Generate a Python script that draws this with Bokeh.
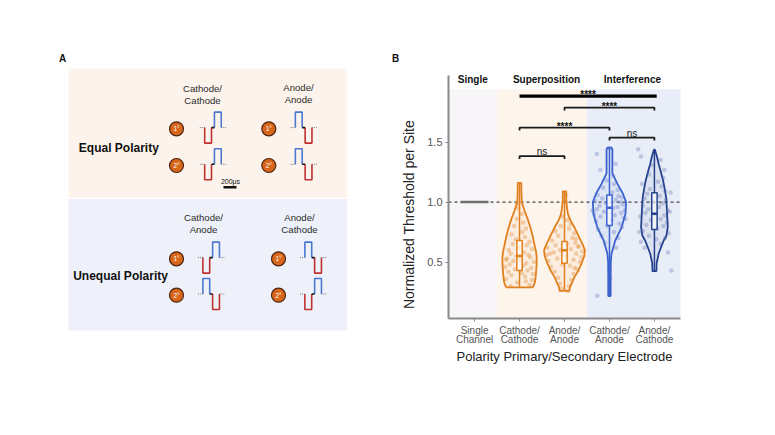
import numpy as np
from bokeh.plotting import figure
from bokeh.models import Range1d, FixedTicker, NumeralTickFormatter, LinearAxis
from bokeh.embed import file_html
from bokeh.resources import INLINE
from bokeh.core.properties import value

FONT = value("Liberation Sans")

# ---------------- Panel B data ----------------
cat_pos = [1, 2, 3, 4, 5]
cat_labels = ["Single\nChannel", "Cathode/\nCathode", "Anode/\nAnode", "Cathode/\nAnode", "Anode/\nCathode"]
y_ticks = [0.5, 1.0, 1.5]
group_colors = ["#6f6f6f", "#E0801E", "#E0801E", "#3B63D0", "#24418E"]
dot_colors = ["#6f6f6f", "#E0801E", "#E0801E", "#5b72c4", "#5b6fae"]

single_channel_value = 1.0

# violin outlines: threshold levels and half widths (category units)
vio_cc_level = [1.16, 1.10, 1.00, 0.93, 0.86, 0.79, 0.72, 0.65, 0.58, 0.54, 0.48, 0.43, 0.38, 0.33, 0.30, 0.29]
vio_cc_half = [0.040, 0.040, 0.050, 0.11, 0.18, 0.24, 0.29, 0.33, 0.37, 0.38, 0.38, 0.37, 0.36, 0.34, 0.31, 0.29]
vio_aa_level = [1.09, 1.02, 0.95, 0.90, 0.85, 0.79, 0.72, 0.65, 0.60, 0.55, 0.49, 0.43, 0.375, 0.33, 0.29, 0.26]
vio_aa_half = [0.038, 0.038, 0.056, 0.078, 0.13, 0.22, 0.31, 0.40, 0.455, 0.44, 0.38, 0.31, 0.22, 0.17, 0.12, 0.11]
vio_ca_level = [1.453, 1.44, 1.35, 1.24, 1.15, 1.07, 1.00, 0.90, 0.79, 0.68, 0.57, 0.50, 0.40, 0.30, 0.217]
vio_ca_half = [0.045, 0.065, 0.065, 0.065, 0.18, 0.30, 0.37, 0.355, 0.27, 0.13, 0.045, 0.03, 0.027, 0.027, 0.027]
vio_ac_level = [1.437, 1.38, 1.32, 1.25, 1.18, 1.11, 1.04, 0.97, 0.90, 0.79, 0.72, 0.68, 0.62, 0.57, 0.49, 0.425]
vio_ac_half = [0.011, 0.056, 0.093, 0.144, 0.193, 0.229, 0.26, 0.273, 0.282, 0.296, 0.267, 0.207, 0.144, 0.093, 0.049, 0.044]

# box stats: lower whisker, Q1, median, Q3, upper whisker
box_cc = [0.29, 0.43, 0.55, 0.68, 1.16]
box_aa = [0.26, 0.49, 0.598, 0.672, 1.09]
box_ca = [0.217, 0.806, 0.953, 1.06, 1.453]
box_ac = [0.425, 0.772, 0.903, 1.078, 1.437]

# individual observations (threshold) and horizontal jitter (category units)
dots_cc = [0.30, 0.31, 0.33, 0.35, 0.36, 0.38, 0.39, 0.40, 0.41, 0.42, 0.43, 0.44, 0.45, 0.46, 0.47,
           0.48, 0.49, 0.50, 0.51, 0.52, 0.53, 0.54, 0.55, 0.56, 0.57, 0.58, 0.60, 0.61, 0.62, 0.64,
           0.65, 0.67, 0.69, 0.71, 0.73, 0.75, 0.78, 0.80, 0.83, 0.86, 0.90, 0.95, 0.99, 0.34, 0.52]
jit_cc = [-0.20, 0.22, -0.05, 0.28, -0.30, 0.12, -0.18, 0.30, 0.05, -0.25, 0.18, -0.10, 0.26, -0.32, 0.08,
          -0.22, 0.15, 0.32, -0.14, 0.02, -0.28, 0.24, -0.06, 0.20, -0.20, 0.10, -0.24, 0.28, -0.02, 0.16,
          -0.15, 0.22, -0.08, 0.12, -0.18, 0.06, 0.14, -0.12, 0.08, -0.06, 0.05, -0.03, -0.06, 0.14, -0.30]
dots_aa = [0.26, 0.28, 0.30, 0.32, 0.35, 0.37, 0.40, 0.42, 0.44, 0.46, 0.47, 0.48, 0.50, 0.51, 0.52,
           0.53, 0.54, 0.55, 0.56, 0.57, 0.58, 0.59, 0.60, 0.61, 0.62, 0.63, 0.64, 0.65, 0.66, 0.68,
           0.70, 0.72, 0.74, 0.76, 0.78, 0.80, 0.82, 0.85, 0.88, 1.00, 1.06, 0.45, 0.57, 0.63, 0.69]
jit_aa = [0.08, -0.06, 0.10, -0.10, 0.15, -0.14, 0.20, -0.22, 0.28, -0.30, 0.12, -0.05, 0.34, -0.36, 0.20,
          -0.16, 0.38, 0.04, -0.40, 0.26, -0.24, 0.40, -0.10, 0.14, -0.38, 0.32, -0.20, 0.06, 0.24, -0.28,
          0.18, -0.14, 0.22, -0.20, 0.10, -0.08, 0.14, 0.06, -0.05, 0.03, 0.04, 0.22, -0.32, 0.30, 0.26]
dots_ca = [0.22, 0.37, 0.62, 0.66, 0.70, 0.72, 0.75, 0.77, 0.79, 0.80, 0.82, 0.84, 0.85, 0.87, 0.88,
           0.89, 0.90, 0.91, 0.92, 0.93, 0.94, 0.95, 0.96, 0.97, 0.98, 0.99, 1.00, 1.01, 1.02, 1.03,
           1.05, 1.06, 1.08, 1.10, 1.12, 1.15, 1.18, 1.22, 1.27, 1.32, 1.40, 1.45, 0.93, 0.86, 1.04]
jit_ca = [-0.27, 0.02, 0.15, -0.10, 0.20, -0.18, 0.10, -0.25, 0.28, -0.05, 0.22, -0.30, 0.05, 0.32, -0.20,
          0.12, -0.34, 0.26, -0.12, 0.34, -0.28, 0.08, 0.18, -0.22, 0.30, -0.08, 0.24, -0.32, 0.14, -0.16,
          0.20, -0.26, 0.06, 0.18, -0.14, 0.10, -0.06, 0.08, -0.20, 0.14, -0.28, 0.00, -0.38, 0.36, 0.28]
dots_ac = [0.43, 0.58, 0.62, 0.65, 0.67, 0.70, 0.72, 0.74, 0.76, 0.78, 0.80, 0.81, 0.83, 0.85, 0.86,
           0.88, 0.89, 0.90, 0.91, 0.93, 0.94, 0.96, 0.97, 0.99, 1.00, 1.02, 1.03, 1.05, 1.07, 1.09,
           1.11, 1.13, 1.15, 1.17, 1.20, 1.23, 1.27, 1.31, 1.35, 1.38, 1.44, 0.75, 0.92, 1.08, 0.69]
jit_ac = [0.38, 0.30, -0.22, 0.14, -0.30, 0.24, -0.12, 0.32, -0.26, 0.06, 0.20, -0.18, 0.28, -0.08, 0.14,
          -0.32, 0.22, 0.02, -0.20, 0.30, -0.14, 0.10, -0.26, 0.18, -0.04, 0.26, -0.22, 0.12, -0.16, 0.24,
          -0.10, 0.16, -0.28, 0.08, 0.20, -0.12, 0.22, -0.06, 0.14, -0.30, -0.36, -0.34, 0.34, 0.36, 0.04]

# strategy regions
region_names = ["Single", "Superposition", "Interference"]
region_start = [0.42, 1.5, 3.5]
region_end = [1.5, 3.5, 5.58]
region_colors = ["#f7f5f8", "#fdf4ec", "#e9edf7"]
region_top = 1.94
region_label_x = [0.96, 2.6, 4.51]
region_label_y = 2.02

# significance brackets
brk_x1 = [2.0, 3.0, 2.0, 4.0, 2.0]
brk_x2 = [5.05, 5.0, 4.0, 5.0, 3.0]
brk_y = [1.883, 1.787, 1.62, 1.537, 1.383]
brk_label = ["****", "****", "****", "ns", "ns"]

# ---------------- Panel A data ----------------
panel_header_top = ["Cathode/", "Cathode", "Anode/", "Anode"]
panel_header_bottom = ["Cathode/", "Anode", "Anode/", "Cathode"]
row_titles = ["Equal Polarity", "Unequal Polarity"]
electrode_labels = ["1°", "2°"]
# phase order of each electrode: C = cathodic first, A = anodic first
wave_order = [["C", "C"], ["A", "A"], ["C", "A"], ["A", "C"]]
wave_lead_us, wave_phase_us, wave_gap_us, wave_trail_us = 75, 105, 45, 75
scale_bar_us = 200

# ---------------- layout geometry (page pixels) ----------------
W, H = 775, 435
B_left, B_right, B_top, B_bottom = 448, 680, 75, 318
x_lo, x_hi = 0.42, 5.58
y_lo, y_hi = 0.03, 2.055
frame_left, frame_bottom = 50, 375
px_cat = (B_right - B_left) / (x_hi - x_lo)
px_thr = (B_bottom - B_top) / (y_hi - y_lo)
cat_start = x_lo - (B_left - frame_left) / px_cat
cat_end = x_hi + (W - B_right) / px_cat
thr_end = y_hi + B_top / px_thr
thr_start = y_lo - (frame_bottom - B_bottom) / px_thr

p = figure(width=W, height=H, x_range=Range1d(frame_left, W), y_range=Range1d(frame_bottom, 0),
           output_backend="svg", toolbar_location=None, title=None,
           x_axis_location=None, y_axis_location=None,
           min_border_left=frame_left, min_border_bottom=H - frame_bottom, min_border_top=0, min_border_right=0)
p.grid.visible = False
p.outline_line_color = None
p.extra_x_ranges = {"cat": Range1d(cat_start, cat_end)}
p.extra_y_ranges = {"thr": Range1d(thr_start, thr_end)}
B = dict(x_range_name="cat", y_range_name="thr")


def txt(x, y, t, size, bold=False, color="#111111", align="center", baseline="middle", angle=0.0, **kw):
    p.text(x=x, y=y, text=t, text_font=FONT, text_font_size=size,
           text_font_style="bold" if bold else "normal", text_color=color,
           text_align=align, text_baseline=baseline, angle=angle, **kw)


# ================= Panel A =================
p.quad(left=[68, 68], right=[346.7, 346.7], top=[68, 198.5], bottom=[196.7, 330],
       fill_color=["#fcf3ec", "#eef1f9"], line_color=None)

txt([62, 395], [58, 58], ["A", "B"], "10px", bold=True)

txt([202, 202, 298, 298], [88, 100, 87, 99], panel_header_top, "9.6px", color="#2b2b2b")
txt([203, 203, 299, 299], [217, 228.5, 217, 228.5], panel_header_bottom, "9.6px", color="#2b2b2b")
txt([78.3, 72.7], [147.3, 275], row_titles, "12px", bold=True, align="left")

circle_x = [176, 268.3, 176, 278]
circle_y = [[128.3, 165], [128.3, 165], [258.3, 294.7], [258.3, 294.7]]
wave_x0 = [199.3, 290, 197.5, 299.5]
px_per_us = 13.0 / 200.0
amp = 15.5
RED, BLUE = "#c0302e", "#4a78cf"

cx, cy, ct = [], [], []
for i in range(4):
    for j in range(2):
        cx.append(circle_x[i]); cy.append(circle_y[i][j]); ct.append(electrode_labels[j])
p.scatter(x=cx, y=cy, size=14, fill_color="#d8661a", line_color="#4a2410", line_width=1.2)
txt(cx, cy, ct, "6.5px", color="white")

dot_xs, dot_ys, blk_xs, blk_ys = [], [], [], []
for i in range(4):
    for j in range(2):
        x0 = wave_x0[i]
        base = circle_y[i][j] - 1.2
        xa = x0 + wave_lead_us * px_per_us
        xb = xa + wave_phase_us * px_per_us
        xc = xb + wave_gap_us * px_per_us
        xd = xc + wave_phase_us * px_per_us
        xe = xd + wave_trail_us * px_per_us
        first = wave_order[i][j]
        s = 1 if first == "C" else -1
        c1 = RED if first == "C" else BLUE
        c2 = BLUE if first == "C" else RED
        p.line([xa, xa, xb, xb], [base, base + s * amp, base + s * amp, base], line_color=c1, line_width=1.6)
        p.line([xc, xc, xd, xd], [base, base - s * amp, base - s * amp, base], line_color=c2, line_width=1.6)
        dot_xs += [[x0, xa], [xd, xe]]
        dot_ys += [[base, base], [base, base]]
        blk_xs.append([xb, xc]); blk_ys.append([base, base])
p.multi_line(dot_xs, dot_ys, line_color="#777777", line_width=1, line_dash="1 1")
p.multi_line(blk_xs, blk_ys, line_color="#111111", line_width=1.6)

txt([230], [181], ["200μs"], "7px")
p.line([223, 223 + scale_bar_us * px_per_us], [186.7, 186.7], line_color="#111111", line_width=2.5)

# ================= Panel B =================
p.quad(left=region_start, right=region_end, bottom=[y_lo] * 3, top=[region_top] * 3,
       fill_color=region_colors, line_color=None, **B)
txt(region_label_x, [region_label_y] * 3, region_names, "10px", bold=True, **B)

p.segment(x0=[x_lo], x1=[x_hi], y0=[1.0], y1=[1.0], line_color="#444444", line_width=1.2,
          line_dash="3 3", **B)

p.segment(x0=[cat_pos[0] - 0.31], x1=[cat_pos[0] + 0.31], y0=[single_channel_value], y1=[single_channel_value],
          line_color=group_colors[0], line_width=2.5, **B)

violins = [(vio_cc_level, vio_cc_half), (vio_aa_level, vio_aa_half),
           (vio_ca_level, vio_ca_half), (vio_ac_level, vio_ac_half)]
boxes = [box_cc, box_aa, box_ca, box_ac]
dots = [(dots_cc, jit_cc), (dots_aa, jit_aa), (dots_ca, jit_ca), (dots_ac, jit_ac)]

for k in range(4):
    pos = cat_pos[k + 1]
    col = group_colors[k + 1]
    lev, half = np.array(violins[k][0]), np.array(violins[k][1])
    xs = np.concatenate([pos + half, (pos - half)[::-1]])
    ys = np.concatenate([lev, lev[::-1]])
    p.patch(xs, ys, fill_color=col, fill_alpha=0.06, line_color=col, line_width=1.8, **B)
    dv, dj = dots[k]
    p.scatter(x=[pos + j for j in dj], y=dv, size=4.5, fill_color=dot_colors[k + 1], fill_alpha=0.32,
              line_color=None, **B)
    lw, q1, med, q3, uw = boxes[k]
    p.segment(x0=[pos, pos], x1=[pos, pos], y0=[lw, q3], y1=[q1, uw], line_color=col, line_width=1.5, **B)
    p.quad(left=[pos - 0.06], right=[pos + 0.06], bottom=[q1], top=[q3], fill_color="white",
           fill_alpha=0.6, line_color=col, line_width=1.5, **B)
    p.segment(x0=[pos - 0.06], x1=[pos + 0.06], y0=[med], y1=[med], line_color=col, line_width=2.5, **B)

tip = 0.024
for i in range(len(brk_y)):
    x1, x2, y = brk_x1[i], brk_x2[i], brk_y[i]
    if i == 0:
        p.line([x1, x2], [y, y], line_color="#000000", line_width=3.2, **B)
    else:
        p.line([x1, x1, x2, x2], [y - tip, y, y, y - tip], line_color="#1a1a1a", line_width=1.8, **B)
    xm = (x1 + x2) / 2
    if brk_label[i] == "ns":
        txt([xm], [y + 0.035], [brk_label[i]], "10px", color="#222222", baseline="alphabetic", **B)
    else:
        off = 0.016 if i == 0 else 0.006
        txt([xm], [y + off], [brk_label[i]], "10px", bold=True, baseline="alphabetic", **B)

# axis titles
txt([408], [214], ["Normalized Threshold per Site"], "14px", color="#222222", angle=np.pi / 2)
txt([(B_left + B_right) / 2], [356], ["Polarity Primary/Secondary Electrode"], "13px", color="#222222")

# axes drawn at the panel B frame edges
yax = LinearAxis(x_range_name="cat", y_range_name="thr", fixed_location=x_lo, bounds=(y_lo, y_hi),
                 ticker=FixedTicker(ticks=y_ticks), formatter=NumeralTickFormatter(format="0.0"))
xax = LinearAxis(x_range_name="cat", y_range_name="thr", fixed_location=y_lo, bounds=(x_lo, x_hi),
                 ticker=FixedTicker(ticks=cat_pos))
xax.major_label_overrides = {c: lab for c, lab in zip(cat_pos, cat_labels)}
for ax in (xax, yax):
    ax.axis_line_color = "#8a8a8a"
    ax.axis_line_width = 2
    ax.major_tick_line_color = "#8a8a8a"
    ax.major_tick_out = 3
    ax.major_tick_in = 0
    ax.minor_tick_line_color = None
    ax.major_label_text_font = "Liberation Sans"
    ax.major_label_text_color = "#555555"
    ax.major_label_standoff = 3
yax.major_label_text_font_size = "11px"
xax.major_label_text_font_size = "10px"
xax.major_label_text_line_height = 0.85
p.add_layout(yax, "left")
p.add_layout(xax, "below")

open("out.html", "w").write(file_html(p, INLINE))
